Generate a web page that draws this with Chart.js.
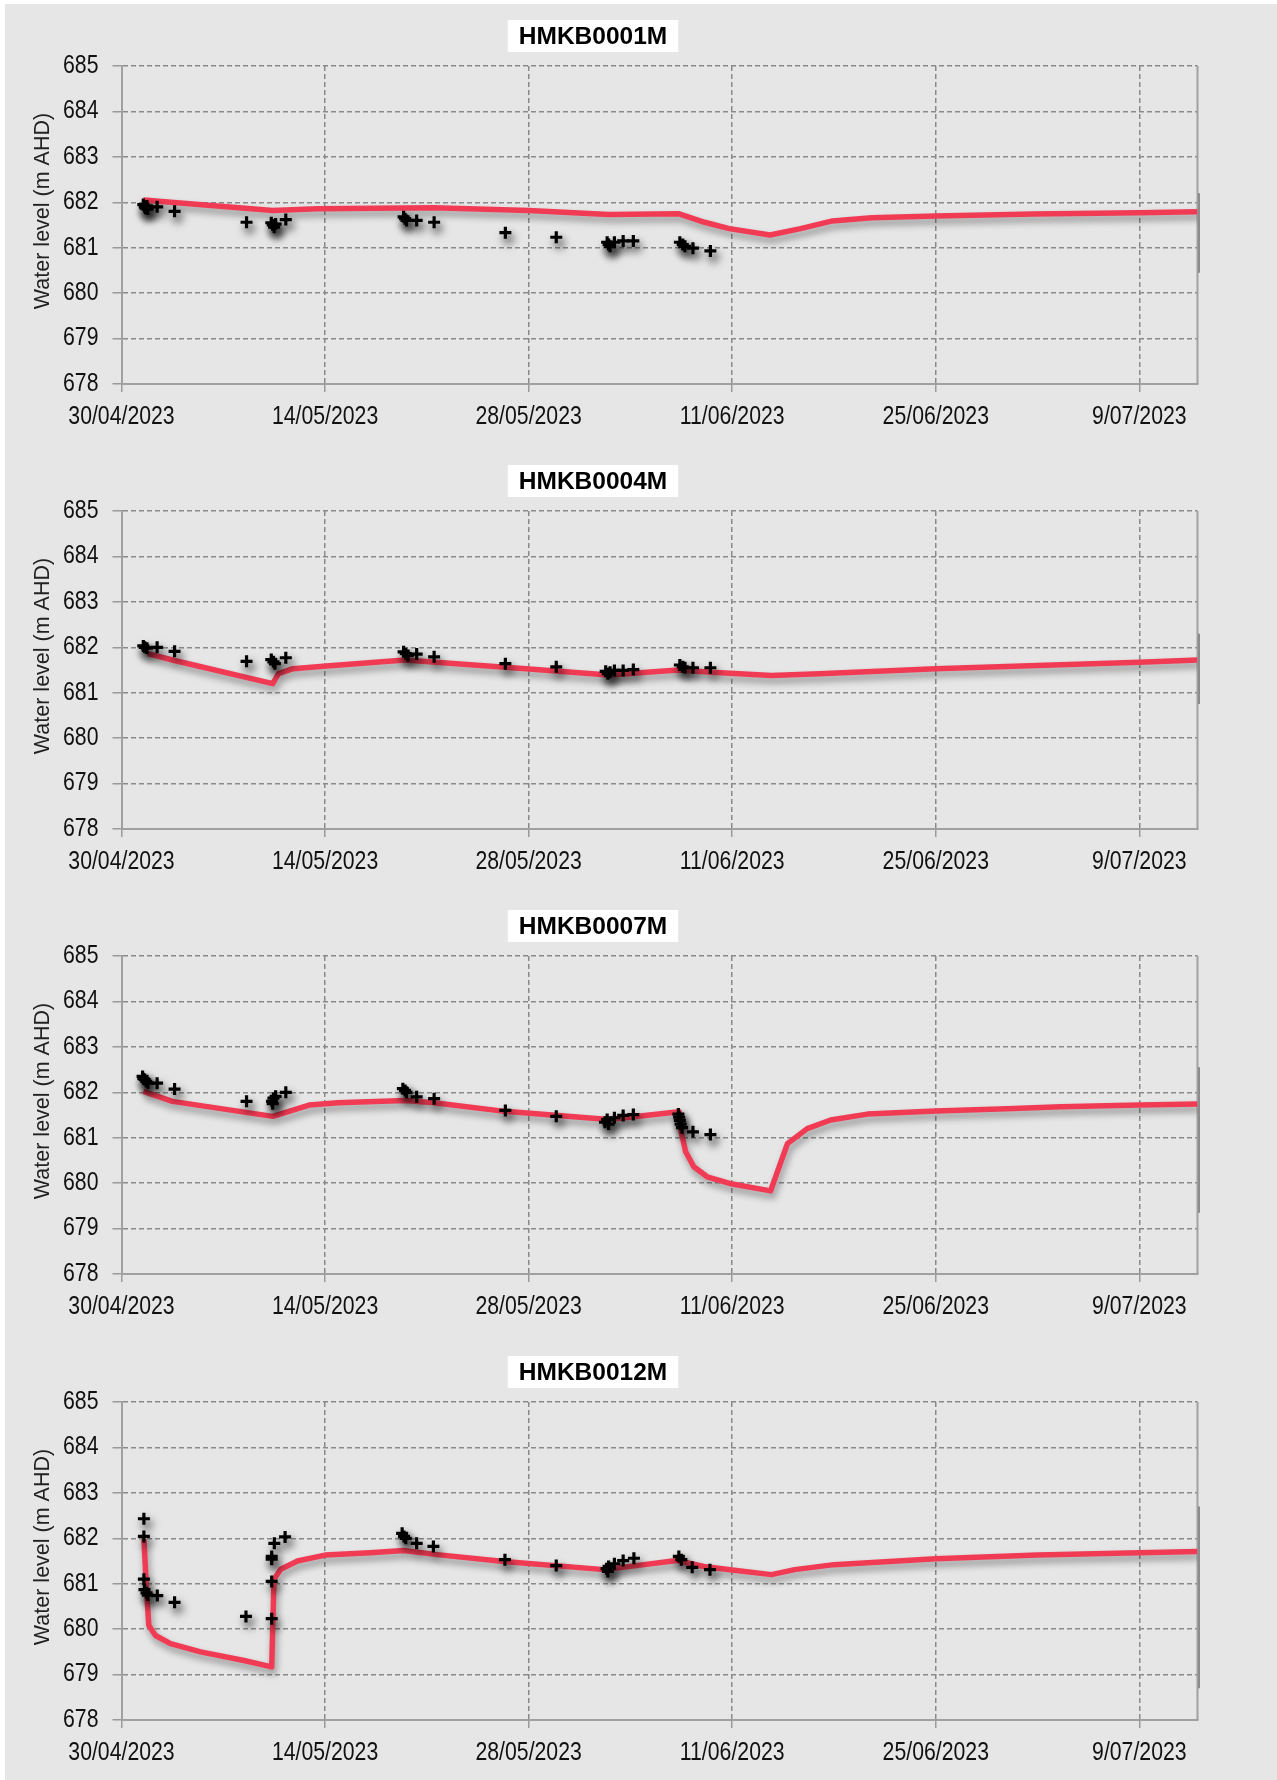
<!DOCTYPE html>
<html><head><meta charset="utf-8">
<script src="https://cdn.jsdelivr.net/npm/chart.js@4.4.0/dist/chart.umd.min.js"></script>
<style>
html,body{margin:0;padding:0;background:#fff;}
#panel{position:absolute;left:5px;top:4px;width:1272px;height:1776px;background:#e6e6e6;}
.wrap{position:absolute;left:0;width:1277px;height:445px;}
canvas{display:block;}
</style></head><body>
<div id="panel"></div>
<div class="wrap" style="top:0px"><canvas id="c1" width="1277" height="445"></canvas></div>
<div class="wrap" style="top:445px"><canvas id="c2" width="1277" height="445"></canvas></div>
<div class="wrap" style="top:890px"><canvas id="c3" width="1277" height="445"></canvas></div>
<div class="wrap" style="top:1336px"><canvas id="c4" width="1277" height="445"></canvas></div>
<script>
// ---- Data (x = days since 30/04/2023) ----
const titles = ['HMKB0001M','HMKB0004M','HMKB0007M','HMKB0012M'];
const yAxisTitle = 'Water level (m AHD)';
const yTicks = [678,679,680,681,682,683,684,685];
const xTickDays = [0,14,28,42,56,70];

// HMKB0001M
const obsDays1 = [1.5,1.6,1.65,1.75,1.8,2.45,3.65,8.6,10.3,10.4,10.5,10.6,11.3,19.4,19.5,19.6,20.3,21.5,26.4,29.9,33.4,33.5,33.6,33.9,34.5,35.2,38.4,38.6,38.75,39.3,40.5];
const obsLevels1 = [681.95,681.9,681.87,681.92,681.85,681.9,681.8,681.56,681.55,681.5,681.45,681.52,681.62,681.68,681.64,681.6,681.6,681.56,681.33,681.23,681.12,681.07,681.03,681.12,681.15,681.15,681.12,681.07,681.03,680.99,680.93];
const modDays1 = [1.5,10.4,13.5,21.5,28,33.5,38.3,40.1,41.8,44.6,46.7,48.9,51.6,56,62.7,70,74];
const modLevels1 = [682.05,681.82,681.86,681.88,681.82,681.73,681.75,681.56,681.42,681.28,681.42,681.59,681.66,681.7,681.74,681.77,681.79];
const edge1 = [682.2,680.45];

// HMKB0004M
const obsDays2 = [1.5,1.6,1.75,2.45,3.65,8.6,10.3,10.45,10.55,11.3,19.4,19.55,19.7,20.3,21.5,26.4,29.9,33.3,33.45,33.6,33.9,34.5,35.2,38.4,38.6,38.75,39.3,40.5];
const obsLevels2 = [682.03,682.0,681.98,682.0,681.91,681.69,681.73,681.68,681.64,681.77,681.9,681.86,681.82,681.85,681.79,681.64,681.57,681.47,681.42,681.45,681.49,681.49,681.51,681.61,681.57,681.55,681.55,681.55];
const modDays2 = [1.8,3.5,10.4,10.8,11.8,14.1,19.5,22.1,27.8,33.5,38.3,40.6,44.7,48,56,63,70,74];
const modLevels2 = [681.86,681.72,681.2,681.42,681.53,681.59,681.72,681.66,681.53,681.39,681.5,681.45,681.38,681.42,681.53,681.6,681.67,681.72];
const edge2 = [682.3,680.75];

// HMKB0007M
const obsDays3 = [1.45,1.5,1.6,1.7,1.82,2.45,3.65,8.6,10.35,10.4,10.45,10.6,11.3,19.35,19.5,19.6,20.3,21.5,26.4,29.9,33.25,33.4,33.5,33.9,34.5,35.2,38.3,38.35,38.4,38.45,38.55,39.3,40.5];
const obsLevels3 = [682.35,682.3,682.28,682.24,682.2,682.2,682.07,681.8,681.8,681.75,681.87,681.91,682.0,682.08,682.04,682.0,681.9,681.86,681.6,681.47,681.34,681.4,681.3,681.44,681.49,681.51,681.52,681.45,681.38,681.3,681.22,681.13,681.07];
const modDays3 = [1.5,3.5,10.4,12.9,14.9,19.5,21.5,26.35,33.5,38.35,38.45,38.8,39.36,40.28,42,44.64,45.8,47.16,48.77,51.3,56,60.9,64.6,70,74];
const modLevels3 = [682.02,681.8,681.47,681.72,681.77,681.82,681.77,681.58,681.4,681.57,681.19,680.69,680.36,680.14,679.98,679.83,680.87,681.2,681.39,681.52,681.59,681.64,681.68,681.72,681.74];
const edge3 = [682.55,679.35];

// HMKB0012M
const obsDays4 = [1.54,1.54,1.54,1.58,1.72,1.81,2.46,3.65,8.56,10.33,10.33,10.33,10.33,10.51,11.25,19.3,19.43,19.55,20.3,21.45,26.37,29.9,33.36,33.45,33.5,33.9,34.5,35.24,38.33,38.5,39.25,40.47];
const obsLevels4 = [682.43,682.04,681.1,680.87,680.8,680.75,680.74,680.59,680.28,680.23,681.05,681.6,681.54,681.89,682.03,682.11,682.04,682.0,681.89,681.82,681.53,681.4,681.33,681.27,681.38,681.44,681.51,681.56,681.6,681.53,681.36,681.31];
const modDays4 = [1.54,1.72,1.88,2.34,3.37,5.44,8.42,10.33,10.49,10.95,12.1,14,17.1,19.4,21.7,26.3,33.2,38.2,40.05,42,44.7,46.3,49,56,63,70,74];
const modLevels4 = [681.98,680.88,680.08,679.86,679.68,679.5,679.31,679.17,681.1,681.32,681.5,681.63,681.68,681.73,681.64,681.49,681.31,681.51,681.38,681.3,681.2,681.31,681.42,681.55,681.63,681.68,681.71];
const edge4 = [682.7,678.7];

// ---- helpers ----
const SANS = '"Liberation Sans",Arial,sans-serif';
function fmtDate(v){
  const d = new Date(Date.UTC(2023,3,30+v));
  return d.getUTCDate() + '/' + String(d.getUTCMonth()+1).padStart(2,'0') + '/' + d.getUTCFullYear();
}

// draw tick labels horizontally condensed (emulates a narrow typeface)
function narrowLabels(scale, factor){
  if (scale._narrowed) return;
  scale._narrowed = true;
  const orig = scale.drawLabels;
  scale.drawLabels = function(area){
    const ctx = this.ctx;
    const r = ctx.rotate;
    ctx.rotate = function(a){ r.call(this, a); this.scale(factor, 1); };
    try { orig.call(this, area); } finally { ctx.rotate = r; }
  };
}

const shadowPlugin = {
  id:'shadowPlugin',
  beforeDatasetDraw(chart, args){
    const ds = chart.data.datasets[args.index];
    const ctx = chart.ctx;
    ctx.save();
    if (ds.type === 'line') {
      ctx.shadowColor = 'rgba(0,0,0,0.38)'; ctx.shadowBlur = 7; ctx.shadowOffsetX = 2; ctx.shadowOffsetY = 5;
    } else {
      ctx.shadowColor = 'rgba(0,0,0,0.75)'; ctx.shadowBlur = 9; ctx.shadowOffsetX = 3; ctx.shadowOffsetY = 6;
    }
  },
  afterDatasetDraw(chart){ chart.ctx.restore(); }
};

const framePlugin = {
  id:'framePlugin',
  beforeDatasetsDraw(chart, args, opts){
    const {ctx, chartArea:a} = chart;
    const ys = chart.scales.y;
    ctx.save();
    ctx.strokeStyle = '#a0a0a0'; ctx.lineWidth = 2;
    ctx.beginPath(); ctx.moveTo(a.right, a.top); ctx.lineTo(a.right, a.bottom); ctx.stroke();
    ctx.strokeStyle = '#8c8c8c'; ctx.lineWidth = 2;
    ctx.beginPath();
    ctx.moveTo(a.right + 1.5, ys.getPixelForValue(opts.edge[0]));
    ctx.lineTo(a.right + 1.5, ys.getPixelForValue(opts.edge[1]));
    ctx.stroke();
    ctx.restore();
  }
};

const textPlugin = {
  id:'textPlugin',
  afterDraw(chart, args, opts){
    const ctx = chart.ctx;
    const a = chart.chartArea;
    ctx.save();
    ctx.font = 'bold 24.5px ' + SANS;
    const w = ctx.measureText(opts.text).width;
    ctx.fillStyle = '#ffffff';
    ctx.fillRect(opts.x - w/2 - 11, opts.y - 16, w + 22, 32);
    ctx.fillStyle = '#000';
    ctx.textAlign = 'center'; ctx.textBaseline = 'middle';
    ctx.fillText(opts.text, opts.x, opts.y + 1);
    ctx.translate(opts.yTitleX, a.top + opts.yTitleDy);
    ctx.rotate(-Math.PI/2);
    ctx.font = '21.5px ' + SANS;
    ctx.fillStyle = '#222';
    ctx.fillText(opts.yTitle, 0, 0);
    ctx.restore();
  }
};

function makeChart(id, title, obsX, obsY, modX, modY, edge){
  const obs = obsX.map((x,i)=>({x:x, y:obsY[i]}));
  const mod = modX.map((x,i)=>({x:x, y:modY[i]}));
  return new Chart(document.getElementById(id), {
    type:'scatter',
    data:{datasets:[
      {type:'scatter', label:'Observed', data:obs, pointStyle:'cross', pointRadius:6, pointBorderWidth:3.2,
       borderColor:'#000', backgroundColor:'#000', order:0},
      {type:'line', label:'Modelled', data:mod, borderColor:'#f13b54', borderWidth:5.5, pointRadius:0,
       tension:0, fill:false, borderJoinStyle:'round', borderCapStyle:'butt', order:1}
    ]},
    options:{
      responsive:false, animation:false, events:[],
      layout:{padding:{top:66, right:79.5, left:0, bottom:0}},
      plugins:{
        legend:{display:false}, tooltip:{enabled:false}, title:{display:false},
        textPlugin:{text:title, x:593, y:36, yTitle:yAxisTitle, yTitleX:43, yTitleDy:145},
        framePlugin:{edge:edge}
      },
      scales:{
        x:{type:'linear', min:0, max:74,
          afterBuildTicks(s){ s.ticks = xTickDays.map(v=>({value:v})); },
          afterFit(s){ s.height = 61; narrowLabels(s, 0.85); },
          ticks:{callback:(v)=>fmtDate(v), font:{family:SANS, size:25}, color:'#111', padding:10, maxRotation:0, minRotation:0, autoSkip:false},
          grid:{color:'#8a8a8a', lineWidth:1.5, tickLength:8, tickColor:'#9a9a9a', tickWidth:1.5, tickBorderDash:[]},
          border:{display:true, color:'#a0a0a0', width:2, dash:[5,3]}
        },
        y:{type:'linear', min:678, max:685,
          afterBuildTicks(s){ s.ticks = yTicks.map(v=>({value:v})); },
          afterFit(s){ s.width = 121.5; narrowLabels(s, 0.85); },
          ticks:{font:{family:SANS, size:25}, color:'#111', padding:14},
          grid:{color:'#8a8a8a', lineWidth:1.5, tickLength:9, tickColor:'#9a9a9a', tickWidth:1.5, tickBorderDash:[]},
          border:{display:true, color:'#a0a0a0', width:2, dash:[5,3]},
          title:{display:false}
        }
      }
    },
    plugins:[shadowPlugin, framePlugin, textPlugin]
  });
}

makeChart('c1', titles[0], obsDays1, obsLevels1, modDays1, modLevels1, edge1);
makeChart('c2', titles[1], obsDays2, obsLevels2, modDays2, modLevels2, edge2);
makeChart('c3', titles[2], obsDays3, obsLevels3, modDays3, modLevels3, edge3);
makeChart('c4', titles[3], obsDays4, obsLevels4, modDays4, modLevels4, edge4);
</script>
</body></html>
